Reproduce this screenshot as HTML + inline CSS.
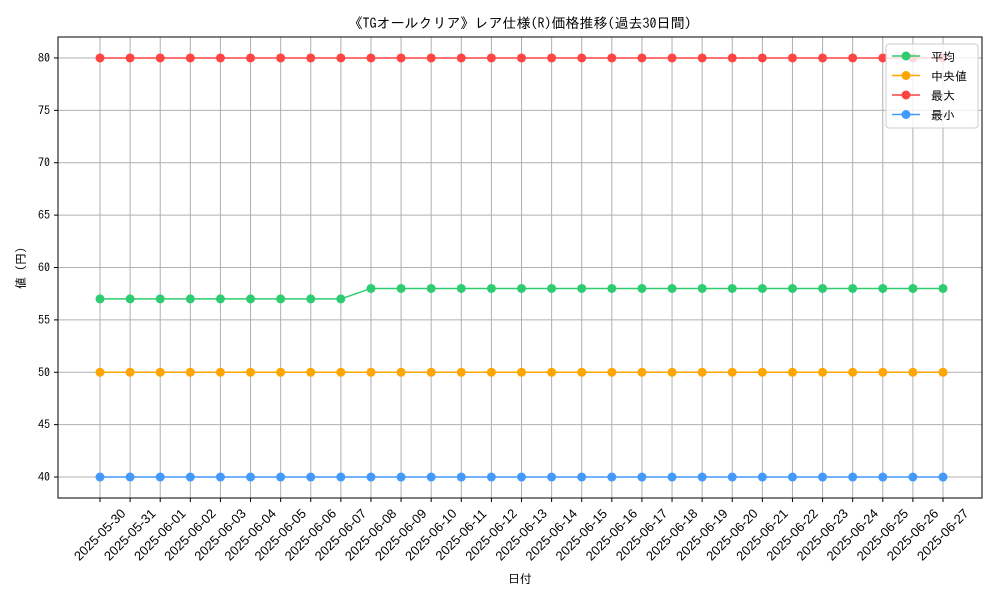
<!DOCTYPE html>
<html><head><meta charset="utf-8"><style>
body{margin:0;background:#fff;}
svg text{font-family:"IPAGothic","Liberation Sans","Noto Sans CJK JP",sans-serif;fill:#000;}
svg text.xt{font-family:"Liberation Sans","Noto Sans CJK JP",sans-serif;}
</style></head><body>
<svg id="c" width="1000" height="600" xmlns="http://www.w3.org/2000/svg"></svg>
<script>
const dates=["2025-05-30","2025-05-31","2025-06-01","2025-06-02","2025-06-03","2025-06-04","2025-06-05","2025-06-06","2025-06-07","2025-06-08","2025-06-09","2025-06-10","2025-06-11","2025-06-12","2025-06-13","2025-06-14","2025-06-15","2025-06-16","2025-06-17","2025-06-18","2025-06-19","2025-06-20","2025-06-21","2025-06-22","2025-06-23","2025-06-24","2025-06-25","2025-06-26","2025-06-27"];
const avgVals=[57,57,57,57,57,57,57,57,57,58,58,58,58,58,58,58,58,58,58,58,58,58,58,58,58,58,58,58,58];
const medVals=[50,50,50,50,50,50,50,50,50,50,50,50,50,50,50,50,50,50,50,50,50,50,50,50,50,50,50,50,50];
const maxVals=[80,80,80,80,80,80,80,80,80,80,80,80,80,80,80,80,80,80,80,80,80,80,80,80,80,80,80,80,80];
const minVals=[40,40,40,40,40,40,40,40,40,40,40,40,40,40,40,40,40,40,40,40,40,40,40,40,40,40,40,40,40];
const yTicks=[40,45,50,55,60,65,70,75,80];
const seriesNames=["平均","中央値","最大","最小"];
const seriesColors=["#2ecc71","#ffa500","#ff4444","#4499ff"];

const L=58,R=982,T=37,B=498;
const xs=i=>100+i*(943-100)/28;
const ys=v=>B-(v-38)/(82-38)*(B-T);
const svg=document.getElementById('c');
const NS="http://www.w3.org/2000/svg";
function mk(tag,attrs,parent){const e=document.createElementNS(NS,tag);for(const k in attrs)e.setAttribute(k,attrs[k]);(parent||svg).appendChild(e);return e;}
const grid=mk('g',{});


dates.forEach((d,i)=>{mk('line',{x1:xs(i),x2:xs(i),y1:T,y2:B,stroke:'#b0b0b0','stroke-width':1},grid);});
yTicks.forEach(v=>{mk('line',{x1:L,x2:R,y1:ys(v),y2:ys(v),stroke:'#b0b0b0','stroke-width':1},grid);});
const data=[avgVals,medVals,maxVals,minVals];
data.forEach((vals,si)=>{
  const g=mk('g',{});
  
  
  mk('polyline',{points:vals.map((v,i)=>xs(i)+','+ys(v)).join(' '),fill:'none',stroke:seriesColors[si],'stroke-width':1.5},g);
  vals.forEach((v,i)=>{const c=mk('circle',{cx:xs(i),cy:ys(v),r:4.5,fill:seriesColors[si]},g);
    
    });
});
const fr=mk('rect',{x:L,y:T,width:R-L,height:B-T,fill:'none',stroke:'#000','stroke-width':1});


yTicks.forEach(v=>{mk('line',{x1:L-4,x2:L,y1:ys(v),y2:ys(v),stroke:'#000'});
  const t=mk('text',{x:L-8,y:ys(v)+4,'text-anchor':'end','font-size':12});t.textContent=v;
  
  });
dates.forEach((d,i)=>{mk('line',{x1:xs(i),x2:xs(i),y1:B,y2:B+4,stroke:'#000'});
  const x=xs(i),y=B+37;
  const t=mk('text',{class:'xt',x:x,y:y+4,'text-anchor':'middle','font-size':13,transform:`rotate(-45 ${x} ${y})`});t.textContent=d;
  
  });
let t=mk('text',{x:520,y:28,'text-anchor':'middle','font-size':14});t.textContent='《TGオールクリア》レア仕様(R)価格推移(過去30日間)';


t=mk('text',{x:520,y:583,'text-anchor':'middle','font-size':12});t.textContent='日付';


t=mk('text',{x:25,y:268,'text-anchor':'middle','font-size':12,transform:'rotate(-90 25 268)'});t.textContent='値 (円)';


const lg=mk('g',{});


mk('rect',{x:886,y:44,width:92,height:84,rx:3,fill:'#fff','fill-opacity':0.8,stroke:'#ccc'},lg);
seriesNames.forEach((n,i)=>{const y=56+i*19.5;
  const e=mk('g',{},lg);
  
  
  mk('line',{x1:892,x2:920,y1:y,y2:y,stroke:seriesColors[i],'stroke-width':1.5},e);
  mk('circle',{cx:906,cy:y,r:4.5,fill:seriesColors[i]},e);
  const tx=mk('text',{x:931,y:y+5,'font-size':12},e);tx.textContent=n;});
</script>
</body></html>
